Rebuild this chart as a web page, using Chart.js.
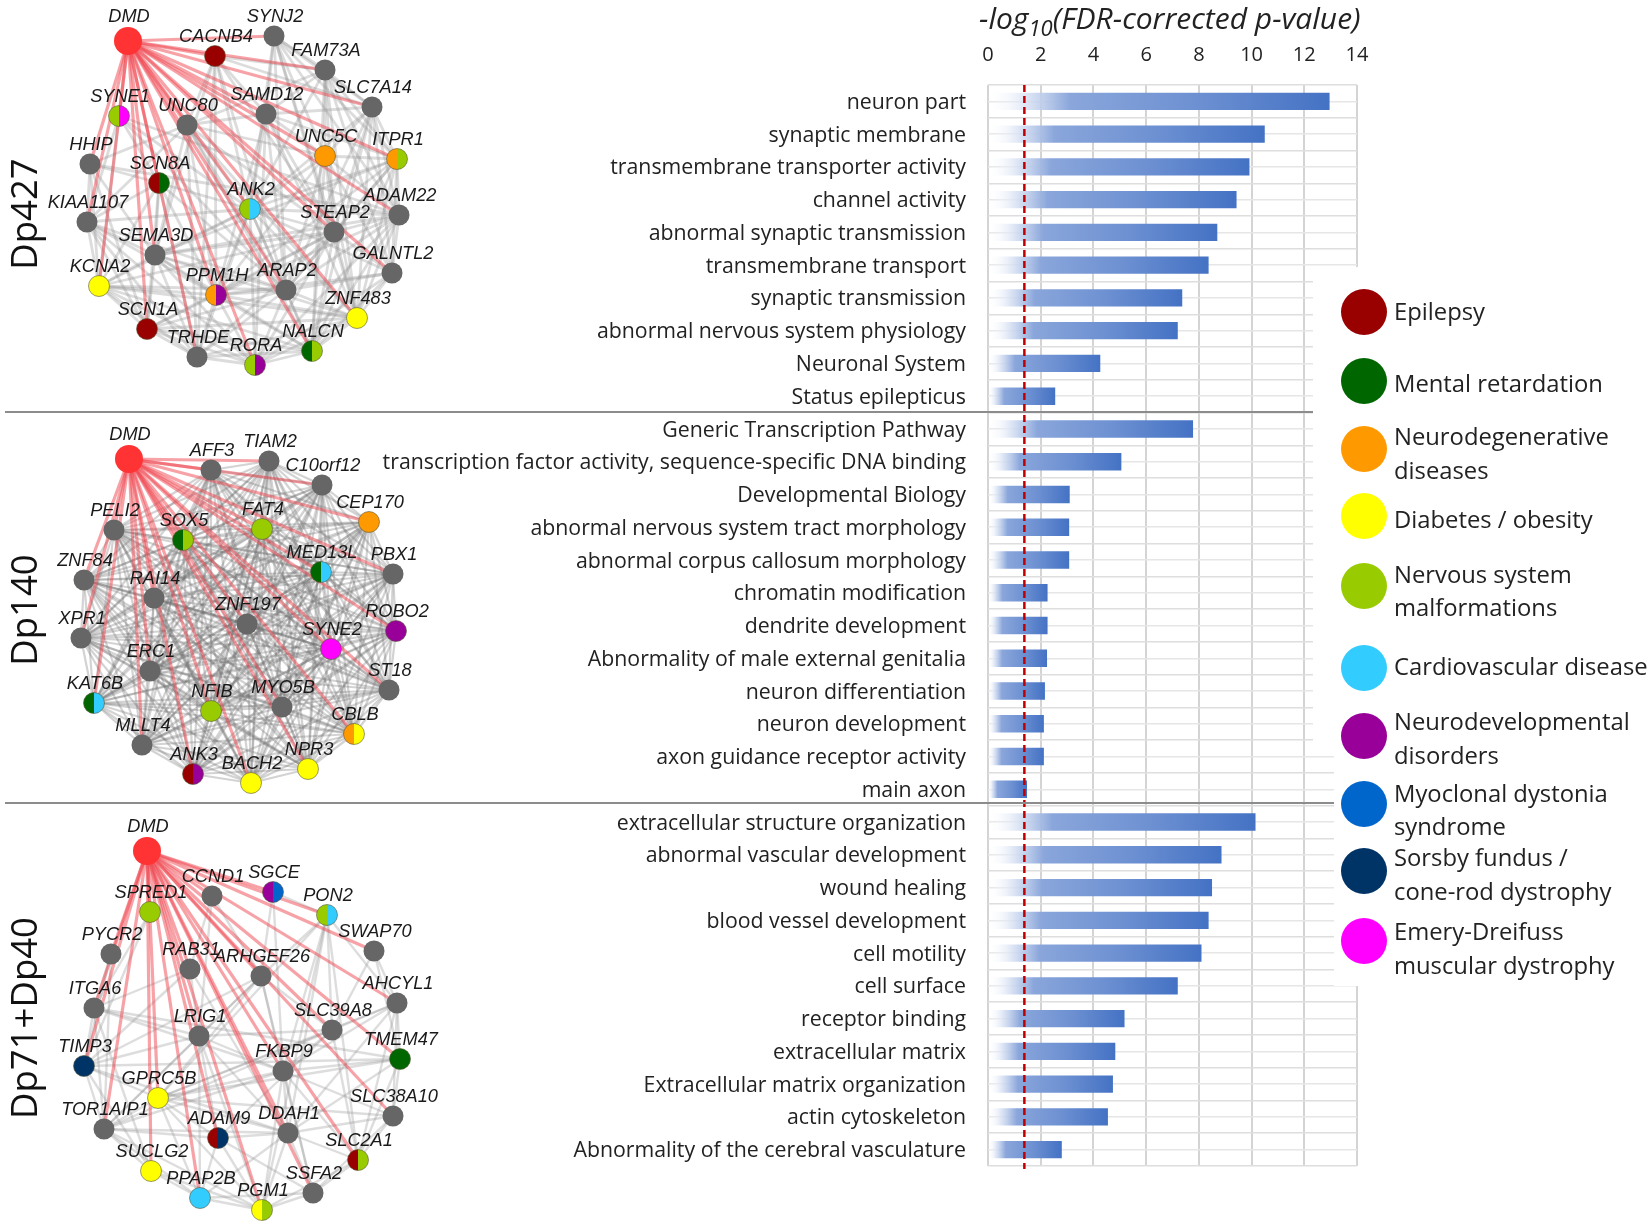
<!DOCTYPE html>
<html>
<head>
<meta charset="utf-8">
<title>DMD co-expression networks and enrichment</title>
<script src="https://cdn.jsdelivr.net/npm/chart.js@4"></script>
<style>
    html, body { margin: 0; padding: 0; background: #fff; }
    #page { position: relative; width: 1650px; height: 1228px; overflow: hidden; }
    canvas { position: absolute; left: 0; top: 0; }
    #axis-title { position: absolute; left: 979px; top: -3px; font: italic 30px "Open Sans"; color: #222; white-space: nowrap; }
    #axis-title sub { font-size: 22px; line-height: 0; }
</style>
</head>
<body>
<div id="page">
    <canvas id="bars" width="1650" height="1228"></canvas>
    <canvas id="networks" width="1650" height="1228"></canvas>
    <div id="axis-title">-log<sub>10</sub>(FDR-corrected p-value)</div>
</div>
<script>
// enrichment bars
const terms = ['neuron part', 'synaptic membrane', 'transmembrane transporter activity', 'channel activity',
    'abnormal synaptic transmission', 'transmembrane transport', 'synaptic transmission',
    'abnormal nervous system physiology', 'Neuronal System', 'Status epilepticus',
    'Generic Transcription Pathway', 'transcription factor activity, sequence-specific DNA binding',
    'Developmental Biology', 'abnormal nervous system tract morphology', 'abnormal corpus callosum morphology',
    'chromatin modification', 'dendrite development', 'Abnormality of male external genitalia',
    'neuron differentiation', 'neuron development', 'axon guidance receptor activity', 'main axon',
    'extracellular structure organization', 'abnormal vascular development', 'wound healing',
    'blood vessel development', 'cell motility', 'cell surface', 'receptor binding', 'extracellular matrix',
    'Extracellular matrix organization', 'actin cytoskeleton', 'Abnormality of the cerebral vasculature'];
const pValues = [12.96, 10.5, 9.92, 9.43, 8.7, 8.37, 7.37, 7.2, 4.26, 2.55,
    7.78, 5.06, 3.1, 3.08, 3.08, 2.26, 2.26, 2.24, 2.16, 2.12, 2.12, 1.48,
    10.15, 8.86, 8.5, 8.37, 8.1, 7.2, 5.18, 4.83, 4.74, 4.55, 2.8];
const cutoff = 1.38;

// network nodes in page pixels
const dp427Names = ['DMD', 'SYNJ2', 'CACNB4', 'FAM73A', 'SLC7A14', 'SAMD12', 'UNC80', 'SYNE1', 'UNC5C', 'ITPR1', 'HHIP', 'SCN8A', 'ANK2',
    'ADAM22', 'STEAP2', 'KIAA1107', 'SEMA3D', 'GALNTL2', 'KCNA2', 'PPM1H', 'ARAP2', 'ZNF483', 'SCN1A', 'NALCN', 'TRHDE', 'RORA'];
const dp427X = [128, 274, 215, 325, 372, 266, 187, 119, 325, 397, 90, 159, 250, 399, 334, 87, 155, 392, 99, 216, 286, 357, 147, 312, 197, 255];
const dp427Y = [41, 36, 56, 70, 107, 114, 125, 116, 156, 159, 164, 183, 209, 215, 232, 222, 255, 273, 286, 295, 290, 318, 329, 351, 357, 365];
const dp427Diseases = ['dmd', '', 'E', '', '', '', '', 'NS+ED', 'ND', 'ND+NS', '', 'E+MR', 'NS+CV',
    '', '', '', '', '', 'DO', 'ND+DV', '', 'DO', 'E', 'MR+NS', '', 'NS+DV'];
const dp427Links = [[], [3, 4, 5, 8, 9, 12, 13, 14, 20, 21], [3, 4, 5, 6, 12, 14, 16, 19, 20, 24], [4, 5, 6, 8, 9, 12, 13, 14, 17, 21, 23],
    [5, 8, 9, 12, 13, 14, 17, 20, 21, 23], [6, 8, 9, 12, 14, 19, 20, 21, 25], [8, 10, 12, 14, 15, 16, 19, 20, 21, 23, 24], [11, 12, 13, 15, 18, 20],
    [9, 12, 13, 14, 17, 19, 20, 21, 23], [12, 13, 14, 16, 17, 19, 20, 21, 23], [11, 13, 15, 16, 18, 22], [12, 15, 16, 18, 19, 20, 22, 24],
    [13, 14, 15, 16, 17, 18, 19, 20, 21, 23, 24, 25], [14, 16, 17, 19, 20, 21, 23, 25], [16, 17, 18, 19, 20, 21, 22, 23, 24, 25],
    [16, 18, 19, 20, 22, 24, 25], [18, 19, 20, 21, 22, 23, 24, 25], [19, 20, 21, 23, 25], [19, 20, 21, 22, 23, 24, 25], [20, 21, 22, 23, 24, 25],
    [21, 22, 23, 24, 25], [22, 23, 24, 25], [24, 25, 23], [24, 25], [25], []];

const dp140Names = ['DMD', 'TIAM2', 'AFF3', 'C10orf12', 'CEP170', 'PELI2', 'SOX5', 'FAT4', 'MED13L', 'PBX1', 'ZNF84', 'RAI14', 'ZNF197',
    'ROBO2', 'SYNE2', 'XPR1', 'ERC1', 'ST18', 'KAT6B', 'NFIB', 'MYO5B', 'CBLB', 'MLLT4', 'ANK3', 'NPR3', 'BACH2'];
const dp140X = [129, 269, 211, 322, 369, 114, 183, 262, 321, 393, 84, 154, 247, 396, 331, 81, 150, 389, 94, 211, 282, 354, 142, 193, 308, 251];
const dp140Y = [459, 461, 470, 485, 522, 530, 540, 529, 572, 574, 580, 598, 624, 631, 649, 638, 671, 690, 703, 711, 707, 734, 745, 774, 769, 783];
const dp140Diseases = ['dmd', '', '', '', 'ND', '', 'MR+NS', 'NS', 'MR+CV', '', '', '', '',
    'DV', 'ED', '', '', '', 'MR+CV', 'NS', '', 'ND+DO', '', 'E+DV', 'DO', 'DO'];

const dp71Names = ['DMD', 'CCND1', 'SGCE', 'PON2', 'SPRED1', 'SWAP70', 'PYCR2', 'RAB31', 'ARHGEF26', 'AHCYL1', 'ITGA6', 'LRIG1', 'SLC39A8',
    'TMEM47', 'TIMP3', 'FKBP9', 'GPRC5B', 'SLC38A10', 'TOR1AIP1', 'DDAH1', 'ADAM9', 'SLC2A1', 'SUCLG2', 'PPAP2B', 'SSFA2', 'PGM1'];
const dp71X = [147, 212, 273, 327, 150, 374, 111, 190, 261, 397, 94, 199, 332, 400, 84, 283, 158, 393, 104, 288, 218, 358, 151, 200, 313, 262];
const dp71Y = [851, 896, 892, 915, 912, 951, 954, 969, 976, 1003, 1008, 1036, 1030, 1059, 1066, 1071, 1098, 1116, 1129, 1133, 1138, 1160, 1171, 1198, 1193, 1210];
const dp71Diseases = ['dmd', '', 'DV+MD', 'NS+CV', 'NS', '', '', '', '', '', '', '', '',
    'MR', 'SF', '', 'DO', '', '', '', 'E+SF', 'E+NS', 'DO', 'CV', '', 'DO+NS'];
const dp71Links = [[], [7, 8, 11], [3, 8, 15], [8, 9, 12, 15, 16, 19, 21, 25], [10, 14], [9, 13, 12], [10, 14, 18], [10, 11, 14, 19], [11, 12, 14, 15, 16, 18, 24],
    [12, 13, 15, 16, 17, 19, 21], [11, 13, 14, 15, 18, 22], [12, 14, 15, 18, 19, 20, 23, 25], [15, 16, 18, 20, 21], [14, 15, 16, 17, 19, 21], [16, 18, 19, 22],
    [16, 17, 18, 19, 21, 24, 25], [17, 18, 19, 20, 23, 25], [19, 21, 24], [19, 20, 22, 23, 25], [20, 21, 23, 24, 25], [23, 24, 25], [24, 25], [23, 25], [24, 25], [25], []];

// legend
const legendKeys = ['E', 'MR', 'ND', 'DO', 'NS', 'CV', 'DV', 'MD', 'SF', 'ED'];
const legendDotY = [312, 381, 449, 516, 586, 668, 736, 804, 871, 941];
const legendLines = ['Epilepsy', 'Mental retardation', 'Neurodegenerative', 'diseases', 'Diabetes / obesity', 'Nervous system', 'malformations',
    'Cardiovascular disease', 'Neurodevelopmental', 'disorders', 'Myoclonal dystonia', 'syndrome', 'Sorsby fundus /', 'cone-rod dystrophy',
    'Emery-Dreifuss', 'muscular dystrophy'];
const legendLineY = [313, 385, 438, 472, 521, 576, 609, 668, 723, 757, 795, 828, 859, 893, 933, 967];

const panelNames = ['Dp427', 'Dp140', 'Dp71+Dp40'];
const panelNameY = [214, 610, 1018];
const dividerY = [412, 803];
const dividerEnd = [1313, 1334];

const colors = {
    E: '#990000', MR: '#006600', ND: '#FF9900', DO: '#FFFF00', NS: '#99CC00', CV: '#33CCFF',
    DV: '#990099', MD: '#0066CC', SF: '#003366', ED: '#FF00FF', dmd: '#FF3333'
};

const splitDot = (left, right) => {
    const c = document.createElement('canvas');
    c.width = 24;
    c.height = 24;
    const g = c.getContext('2d');
    g.fillStyle = colors[left];
    g.beginPath();
    g.arc(12, 12, 10.5, Math.PI / 2, Math.PI * 1.5);
    g.fill();
    g.fillStyle = colors[right];
    g.beginPath();
    g.arc(12, 12, 10.5, Math.PI * 1.5, Math.PI / 2);
    g.fill();
    g.strokeStyle = 'rgba(90,90,60,0.6)';
    g.beginPath();
    g.arc(12, 12, 10.5, 0, Math.PI * 2);
    g.stroke();
    return c;
};

const nodeDataset = (xs, ys, diseases, names) => ({
    type: 'scatter',
    order: 0,
    names: names,
    data: xs.map((x, i) => ({ x: x, y: ys[i] })),
    pointRadius: diseases.map(d => d === 'dmd' ? 14 : 10.5),
    pointBackgroundColor: diseases.map(d => d === '' ? '#666666' : (colors[d] || '#666666')),
    pointBorderColor: diseases.map(d => d === '' || d === 'dmd' ? 'rgba(0,0,0,0)' : 'rgba(90,90,60,0.6)'),
    pointBorderWidth: 1,
    pointStyle: diseases.map(d => d.includes('+') ? splitDot(d.split('+')[0], d.split('+')[1]) : 'circle')
});

const edgeDataset = (xs, ys, a, b, color, width, order) => ({
    type: 'line',
    order: order,
    data: [{ x: xs[a], y: ys[a] }, { x: xs[b], y: ys[b] }],
    borderColor: color,
    borderWidth: width,
    pointRadius: 0,
    tension: 0
});

const panelEdges = (xs, ys, links, color, width) => {
    const out = [];
    links.forEach((row, a) => row.forEach(b => out.push(edgeDataset(xs, ys, a, b, color, width, 3))));
    xs.forEach((x, b) => { if (b > 0) out.push(edgeDataset(xs, ys, 0, b, 'rgba(240,70,80,0.5)', 3.2, 2)); });
    return out;
};

// Dp140 is close to a complete graph
const dp140Links = dp140Names.map((n, a) => dp140Names.map((m, b) => b).filter(b => a > 0 && b > a));

const networkDatasets = [
    nodeDataset(dp427X, dp427Y, dp427Diseases, dp427Names),
    nodeDataset(dp140X, dp140Y, dp140Diseases, dp140Names),
    nodeDataset(dp71X, dp71Y, dp71Diseases, dp71Names),
    {
        type: 'scatter',
        order: 0,
        data: legendDotY.map(y => ({ x: 1364, y: y })),
        pointRadius: 23,
        pointBorderWidth: 0,
        pointBackgroundColor: legendKeys.map(k => colors[k])
    }
];
dividerY.forEach((y, i) => networkDatasets.push({
    type: 'line',
    order: 1,
    data: [{ x: 5, y: y }, { x: dividerEnd[i], y: y }],
    borderColor: '#8c8c8c',
    borderWidth: 2.2,
    pointRadius: 0
}));
networkDatasets.push(...panelEdges(dp427X, dp427Y, dp427Links, 'rgba(150,150,150,0.33)', 2.8));
networkDatasets.push(...panelEdges(dp140X, dp140Y, dp140Links, 'rgba(110,110,110,0.3)', 2.2));
networkDatasets.push(...panelEdges(dp71X, dp71Y, dp71Links, 'rgba(150,150,150,0.32)', 2.4));

const networkText = {
    id: 'networkText',
    afterDatasetsDraw(chart) {
        const ctx = chart.ctx;
        const sx = chart.scales.x;
        const sy = chart.scales.y;
        ctx.save();
        ctx.fillStyle = '#1a1a1a';
        ctx.textAlign = 'center';
        ctx.textBaseline = 'middle';
        ctx.font = 'italic 18.2px "Liberation Sans"';
        [0, 1, 2].forEach(k => {
            const meta = chart.getDatasetMeta(k);
            chart.data.datasets[k].names.forEach((name, i) => {
                const p = meta.data[i];
                ctx.fillText(name, p.x + 1, p.y - (i === 0 ? 24 : 19.5));
            });
        });
        ctx.textAlign = 'left';
        ctx.font = '23.8px "Open Sans"';
        ctx.fillStyle = '#222';
        legendLines.forEach((line, i) => ctx.fillText(line, sx.getPixelForValue(1394), sy.getPixelForValue(legendLineY[i])));
        ctx.font = '36.5px "Open Sans"';
        ctx.textAlign = 'center';
        ctx.textBaseline = 'alphabetic';
        ctx.fillStyle = '#111';
        panelNames.forEach((name, i) => {
            ctx.save();
            ctx.translate(sx.getPixelForValue(37), sy.getPixelForValue(panelNameY[i]));
            ctx.rotate(-Math.PI / 2);
            ctx.fillText(name, 0, 0);
            ctx.restore();
        });
        ctx.restore();
    }
};

new Chart(document.getElementById('networks'), {
    data: { datasets: networkDatasets },
    plugins: [networkText],
    options: {
        responsive: false,
        animation: false,
        events: [],
        layout: { padding: 0, autoPadding: false },
        plugins: { legend: { display: false }, tooltip: { enabled: false } },
        scales: {
            x: { type: 'linear', min: 0, max: 1650, display: false },
            y: { type: 'linear', min: 0, max: 1228, reverse: true, display: false }
        }
    }
});

// the white patch behind the legend hides part of the grid
const legendPatch = {
    id: 'legendPatch',
    beforeDatasetsDraw(chart) {
        const ctx = chart.ctx;
        ctx.save();
        ctx.fillStyle = '#fff';
        ctx.fillRect(1313, 267, 60, 478);
        ctx.fillRect(1334, 745, 40, 241);
        ctx.restore();
    }
};

const cutoffLine = {
    id: 'cutoffLine',
    afterDatasetsDraw(chart) {
        const ctx = chart.ctx;
        const x = chart.scales.x.getPixelForValue(cutoff);
        ctx.save();
        ctx.strokeStyle = '#C00000';
        ctx.lineWidth = 2.5;
        ctx.setLineDash([7, 4]);
        ctx.beginPath();
        ctx.moveTo(x, chart.chartArea.top);
        ctx.lineTo(x, chart.chartArea.bottom + 3);
        ctx.stroke();
        ctx.restore();
    }
};

const barFill = (context) => {
    const chart = context.chart;
    if (context.type !== 'data' || !chart.chartArea) return '#4472C4';
    const x = chart.scales.x;
    const g = chart.ctx.createLinearGradient(x.getPixelForValue(0), 0, x.getPixelForValue(context.parsed.x), 0);
    g.addColorStop(0, 'rgba(255,255,255,0)');
    g.addColorStop(0.1, 'rgba(222,230,245,0.8)');
    g.addColorStop(0.24, '#8AA6DB');
    g.addColorStop(0.6, '#6E91D2');
    g.addColorStop(1, '#4472C4');
    return g;
};

new Chart(document.getElementById('bars'), {
    type: 'bar',
    data: {
        labels: terms,
        datasets: [
            {
                xAxisID: 'x',
                yAxisID: 'y',
                data: pValues,
                backgroundColor: barFill,
                barPercentage: 0.53,
                categoryPercentage: 1
            }
        ]
    },
    plugins: [legendPatch, cutoffLine],
    options: {
        indexAxis: 'y',
        responsive: false,
        animation: false,
        events: [],
        layout: { padding: { right: 293, bottom: 62 } },
        plugins: { legend: { display: false }, tooltip: { enabled: false } },
        scales: {
            x: {
                type: 'linear',
                position: 'top',
                min: 0,
                max: 14,
                afterFit: s => { s.height = 85; },
                border: { display: false },
                grid: { color: '#d4d4d4', lineWidth: 2, drawTicks: false },
                ticks: { stepSize: 2, padding: 18, color: '#222', font: { family: 'Open Sans', size: 20 } }
            },
            y: {
                type: 'category',
                position: 'left',
                afterFit: s => { s.width = 988; },
                border: { display: false },
                grid: { offset: true, color: '#dedede', lineWidth: 1.5, drawTicks: false },
                ticks: { autoSkip: false, padding: 22, labelOffset: 1.5, color: '#222', font: { family: 'Open Sans', size: 21.3 } }
            },
            yMid: {
                type: 'category',
                position: 'right',
                offset: true,
                afterFit: s => { s.width = 0; },
                border: { display: false },
                grid: { offset: false, color: '#e6e6e6', lineWidth: 1.5, drawTicks: false },
                ticks: { display: false, autoSkip: false }
            }
        }
    }
});
</script>
</body>
</html>
